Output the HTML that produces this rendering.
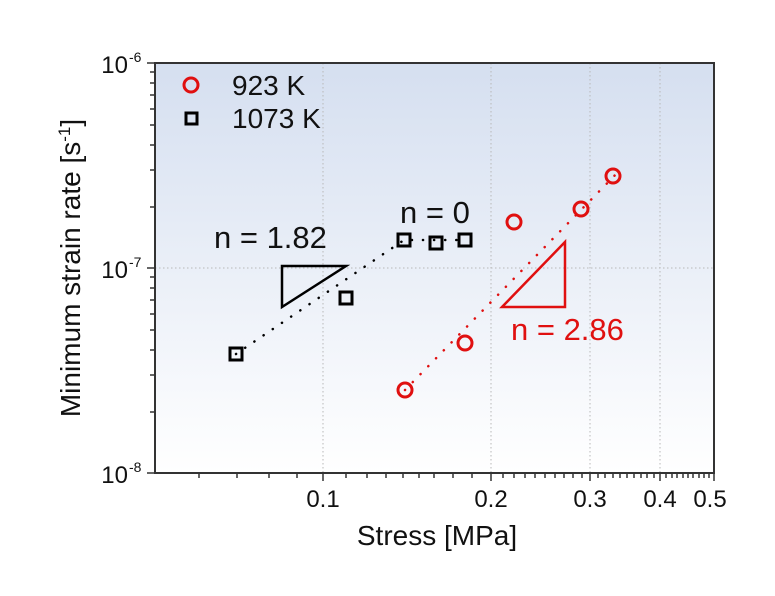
<!DOCTYPE html>
<html><head><meta charset="utf-8"><style>body{margin:0;background:#fff}svg{display:block;font-family:"Liberation Sans",Arial,sans-serif}</style></head><body>
<svg width="775" height="596" viewBox="0 0 775 596">
<defs><linearGradient id="g" x1="0" y1="0" x2="0" y2="1"><stop offset="0" stop-color="#d5dff0"/><stop offset="1" stop-color="#ffffff"/></linearGradient></defs>
<rect x="155" y="63" width="559" height="410" fill="url(#g)"/>
<g stroke="#b8b8b8" stroke-width="1" stroke-dasharray="1.5,2.5">
<line x1="323" y1="63" x2="323" y2="473"/><line x1="491" y1="63" x2="491" y2="473"/><line x1="590" y1="63" x2="590" y2="473"/><line x1="660" y1="63" x2="660" y2="473"/>
<line x1="155" y1="268" x2="714" y2="268"/>
</g>
<rect x="155" y="63" width="559" height="410" fill="none" stroke="#333" stroke-width="2"/>
<g stroke="#333" stroke-width="1.5">
<line x1="323" y1="473" x2="323" y2="481"/><line x1="491" y1="473" x2="491" y2="481"/><line x1="590" y1="473" x2="590" y2="481"/><line x1="660" y1="473" x2="660" y2="481"/><line x1="714" y1="473" x2="714" y2="481"/>
<line x1="199" y1="473" x2="199" y2="478"/><line x1="237" y1="473" x2="237" y2="478"/><line x1="269" y1="473" x2="269" y2="478"/><line x1="297" y1="473" x2="297" y2="478"/>
<line x1="346" y1="473" x2="346" y2="478"/><line x1="367" y1="473" x2="367" y2="478"/><line x1="386" y1="473" x2="386" y2="478"/><line x1="403" y1="473" x2="403" y2="478"/><line x1="419" y1="473" x2="419" y2="478"/><line x1="434" y1="473" x2="434" y2="478"/><line x1="453" y1="473" x2="453" y2="478"/><line x1="472" y1="473" x2="472" y2="478"/>
<line x1="503" y1="473" x2="503" y2="478"/><line x1="514" y1="473" x2="514" y2="478"/><line x1="525" y1="473" x2="525" y2="478"/><line x1="535" y1="473" x2="535" y2="478"/><line x1="545" y1="473" x2="545" y2="478"/><line x1="555" y1="473" x2="555" y2="478"/><line x1="564" y1="473" x2="564" y2="478"/><line x1="573" y1="473" x2="573" y2="478"/><line x1="582" y1="473" x2="582" y2="478"/>
<line x1="598" y1="473" x2="598" y2="478"/><line x1="605" y1="473" x2="605" y2="478"/><line x1="613" y1="473" x2="613" y2="478"/><line x1="620" y1="473" x2="620" y2="478"/><line x1="627" y1="473" x2="627" y2="478"/><line x1="634" y1="473" x2="634" y2="478"/><line x1="641" y1="473" x2="641" y2="478"/><line x1="647" y1="473" x2="647" y2="478"/><line x1="654" y1="473" x2="654" y2="478"/>
<line x1="666" y1="473" x2="666" y2="478"/><line x1="672" y1="473" x2="672" y2="478"/><line x1="677" y1="473" x2="677" y2="478"/><line x1="683" y1="473" x2="683" y2="478"/><line x1="688" y1="473" x2="688" y2="478"/><line x1="693" y1="473" x2="693" y2="478"/><line x1="699" y1="473" x2="699" y2="478"/><line x1="704" y1="473" x2="704" y2="478"/><line x1="709" y1="473" x2="709" y2="478"/>
<line x1="147" y1="63" x2="155" y2="63"/><line x1="147" y1="268" x2="155" y2="268"/><line x1="147" y1="473" x2="155" y2="473"/>
<line x1="150" y1="72" x2="155" y2="72"/><line x1="150" y1="83" x2="155" y2="83"/><line x1="150" y1="95" x2="155" y2="95"/><line x1="150" y1="109" x2="155" y2="109"/><line x1="150" y1="125" x2="155" y2="125"/><line x1="150" y1="145" x2="155" y2="145"/><line x1="150" y1="170" x2="155" y2="170"/><line x1="150" y1="207" x2="155" y2="207"/>
<line x1="150" y1="277" x2="155" y2="277"/><line x1="150" y1="288" x2="155" y2="288"/><line x1="150" y1="300" x2="155" y2="300"/><line x1="150" y1="314" x2="155" y2="314"/><line x1="150" y1="330" x2="155" y2="330"/><line x1="150" y1="350" x2="155" y2="350"/><line x1="150" y1="375" x2="155" y2="375"/><line x1="150" y1="412" x2="155" y2="412"/>
</g>
<g font-size="24" fill="#111" text-anchor="middle">
<text x="323" y="507">0.1</text><text x="491" y="507">0.2</text><text x="590" y="507">0.3</text><text x="660" y="507">0.4</text><text x="710" y="507">0.5</text>
</g>
<g font-size="24" fill="#111" text-anchor="end">
<text x="128" y="73">10</text><text x="128" y="278">10</text><text x="128" y="483">10</text>
</g>
<g font-size="14" fill="#111">
<text x="129" y="62">-6</text><text x="129" y="267">-7</text><text x="129" y="472">-8</text>
</g>
<text x="437" y="545" font-size="28" text-anchor="middle" fill="#111">Stress [MPa]</text>
<text transform="translate(80,268) rotate(-90)" font-size="28" text-anchor="middle" fill="#111">Minimum strain rate [s<tspan font-size="17" dy="-10">-1</tspan><tspan dy="10">]</tspan></text>
<circle cx="191" cy="85" r="7" fill="none" stroke="#e01010" stroke-width="3"/>
<rect x="186" y="113" width="11" height="11" fill="none" stroke="#000" stroke-width="3"/>
<text x="232" y="95" font-size="28" fill="#111">923 K</text>
<text x="232" y="128" font-size="28" fill="#111">1073 K</text>
<polyline points="236,354 404,240 465,240" fill="none" stroke="#000" stroke-width="2.5" stroke-dasharray="0.1,11" stroke-linecap="round"/>
<line x1="405" y1="390" x2="622" y2="168" stroke="#e01010" stroke-width="2.5" stroke-dasharray="0.1,11" stroke-linecap="round"/>
<g fill="none" stroke="#000" stroke-width="3">
<rect x="230" y="348" width="12" height="12"/><rect x="340" y="292" width="12" height="12"/><rect x="398" y="234" width="12" height="12"/><rect x="430" y="237" width="12" height="12"/><rect x="459" y="234" width="12" height="12"/>
</g>
<g fill="none" stroke="#e01010" stroke-width="3">
<circle cx="405" cy="390" r="7"/><circle cx="465" cy="343" r="7"/><circle cx="514" cy="222" r="7"/><circle cx="581" cy="209" r="7"/><circle cx="613" cy="176" r="7"/>
</g>
<polygon points="282,266 346,266 282,307" fill="none" stroke="#000" stroke-width="2.5"/>
<polygon points="565,242 565,307 502,307" fill="none" stroke="#e01010" stroke-width="2.5"/>
<text x="214" y="248" font-size="31" fill="#111">n = 1.82</text>
<text x="400" y="223" font-size="31" fill="#111">n = 0</text>
<text x="511" y="340" font-size="31" fill="#e01010">n = 2.86</text>
</svg>
</body></html>
